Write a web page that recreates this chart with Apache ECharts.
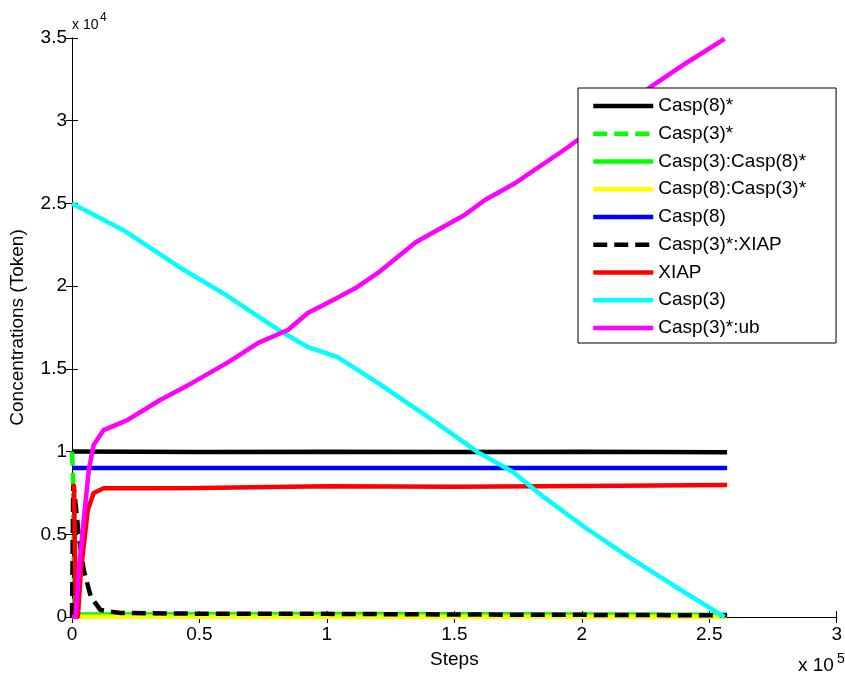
<!DOCTYPE html>
<html>
<head>
<meta charset="utf-8">
<script src="https://cdn.jsdelivr.net/npm/echarts@6/dist/echarts.min.js"></script>
<style>html,body{margin:0;padding:0;background:#fff}#c{width:845px;height:681px}</style>
</head>
<body>
<div id="c"></div>
<script>
// x in steps, y in tokens
const seriesNames = ['Casp(8)*','Casp(3)*','Casp(3):Casp(8)*','Casp(8):Casp(3)*','Casp(8)','Casp(3)*:XIAP','XIAP','Casp(3)','Casp(3)*:ub'];
const xTicks = [0, 50000, 100000, 150000, 200000, 250000, 300000];
const yTicks = [0, 5000, 10000, 15000, 20000, 25000, 30000, 35000];

const casp8Star = [[0,10000],[50000,9980],[100000,9990],[150000,9980],[200000,9990],[257000,9960]];
const casp3Star = [[0,10000],[400,8600],[900,300],[2000,60],[50000,30],[150000,30],[257000,30]];
const casp3Casp8Star = [[0,0],[1000,150],[50000,170],[100000,160],[150000,160],[200000,150],[257000,140]];
const casp8Casp3Star = [[0,0],[1000,20],[100000,20],[200000,20],[257000,20]];
const casp8 = [[0,9000],[257000,9000]];
const casp3StarXIAP = [[0,0],[500,8000],[900,7600],[2700,4840],[4600,2840],[7400,1210],[11200,420],[19000,240],[50000,200],[100000,190],[150000,150],[200000,130],[257000,100]];
const xiap = [[0,8000],[800,7900],[1500,0],[2300,0],[3500,2800],[6200,6470],[8500,7500],[12400,7780],[30000,7780],[50000,7800],[100000,7900],[150000,7870],[200000,7920],[257000,7980]];
const casp3 = [[0,25000],[20000,23400],[42000,21160],[60000,19500],[81000,17350],[92500,16320],[104000,15720],[120000,14150],[143000,11730],[159000,9980],[173000,8770],[185000,7260],[201000,5440],[216000,3870],[237000,1810],[256000,0]];
const casp3StarUb = [[0,0],[1500,0],[2700,2840],[4600,5860],[6600,8890],[8500,10400],[12400,11300],[21700,11900],[34400,13100],[47200,14150],[61500,15420],[73100,16570],[84700,17350],[92500,18380],[104000,19290],[112000,19950],[120000,20800],[135000,22670],[154000,24300],[162000,25210],[174000,26240],[193000,28230],[227000,32040],[241000,33490],[256000,34950]];

const seriesData = [casp8Star, casp3Star, casp3Casp8Star, casp8Casp3Star, casp8, casp3StarXIAP, xiap, casp3, casp3StarUb];
const colors = ['#000000','#00ff00','#00ff00','#ffff00','#0000ff','#000000','#ff0000','#00ffff','#ff00ff'];
const dashed = [false,true,false,false,false,true,false,false,false];

const FONT = 'Liberation Sans, Arial, Helvetica, sans-serif';
const FS = 19;

const chart = echarts.init(document.getElementById('c'), null, {renderer:'canvas'});
const axisCommon = {
  axisLine:{show:true,lineStyle:{color:'#000',width:1}},
  axisTick:{show:true,inside:true,length:6,lineStyle:{color:'#000',width:1}},
  splitLine:{show:false}
};
chart.setOption({
  animation:false,
  backgroundColor:'#fff',
  grid:{left:71,right:3,top:38,bottom:64,containLabel:false},
  xAxis:[
    Object.assign({type:'value',min:xTicks[0],max:xTicks[xTicks.length-1],interval:xTicks[1]-xTicks[0],position:'bottom',
      name:'Steps',nameLocation:'middle',nameGap:33,
      nameTextStyle:{fontFamily:FONT,fontSize:FS,color:'#000'},
      axisLabel:{fontFamily:FONT,fontSize:FS,color:'#000',margin:8,formatter:v=>String(+(v/1e5).toFixed(2))}},axisCommon),
    Object.assign({type:'value',min:xTicks[0],max:xTicks[xTicks.length-1],interval:xTicks[1]-xTicks[0],position:'top',
      axisLabel:{show:false}},axisCommon)
  ],
  yAxis:[
    Object.assign({type:'value',min:yTicks[0],max:yTicks[yTicks.length-1],interval:yTicks[1]-yTicks[0],position:'left',
      name:'Concentrations (Token)',nameLocation:'middle',nameGap:45,
      nameTextStyle:{fontFamily:FONT,fontSize:FS,color:'#000'},
      axisLabel:{fontFamily:FONT,fontSize:FS,color:'#000',margin:5,formatter:v=>String(+(v/1e4).toFixed(2))}},axisCommon),
    Object.assign({type:'value',min:yTicks[0],max:yTicks[yTicks.length-1],interval:yTicks[1]-yTicks[0],position:'right',
      axisLabel:{show:false}},axisCommon)
  ],
  legend:{
    orient:'vertical',left:578,top:88,
    data:seriesNames,
    backgroundColor:'#fff',borderColor:'#000',borderWidth:1,borderRadius:0,
    padding:[8,30,5,13],
    itemWidth:60,itemHeight:20,itemGap:7.75,
    itemStyle:{opacity:0,color:'rgba(0,0,0,0)',borderWidth:0},
    lineStyle:{width:4.5},
    textStyle:{fontFamily:FONT,fontSize:FS,color:'#000',lineHeight:20}
  },
  graphic:[
    {type:'text',x:72,y:18,style:{text:'x 10',font:'14px '+FONT,fill:'#000',verticalAlign:'top'}},
    {type:'text',x:100,y:12,style:{text:'4',font:'12px '+FONT,fill:'#000',verticalAlign:'top'}},
    {type:'text',x:798,y:656,style:{text:'x 10',font:'19px '+FONT,fill:'#000',verticalAlign:'top'}},
    {type:'text',x:837,y:652,style:{text:'5',font:'14px '+FONT,fill:'#000',verticalAlign:'top'}}
  ],
  series:seriesNames.map((n,i)=>({
    name:n,type:'line',data:seriesData[i],symbol:'none',showSymbol:false,
    xAxisIndex:0,yAxisIndex:0,clip:true,
    lineStyle:{color:colors[i],width:4.5,type:dashed[i]?[14,7]:'solid',cap:'butt'},
    itemStyle:{color:colors[i]},
    emphasis:{disabled:true}
  }))
});
</script>
</body>
</html>
